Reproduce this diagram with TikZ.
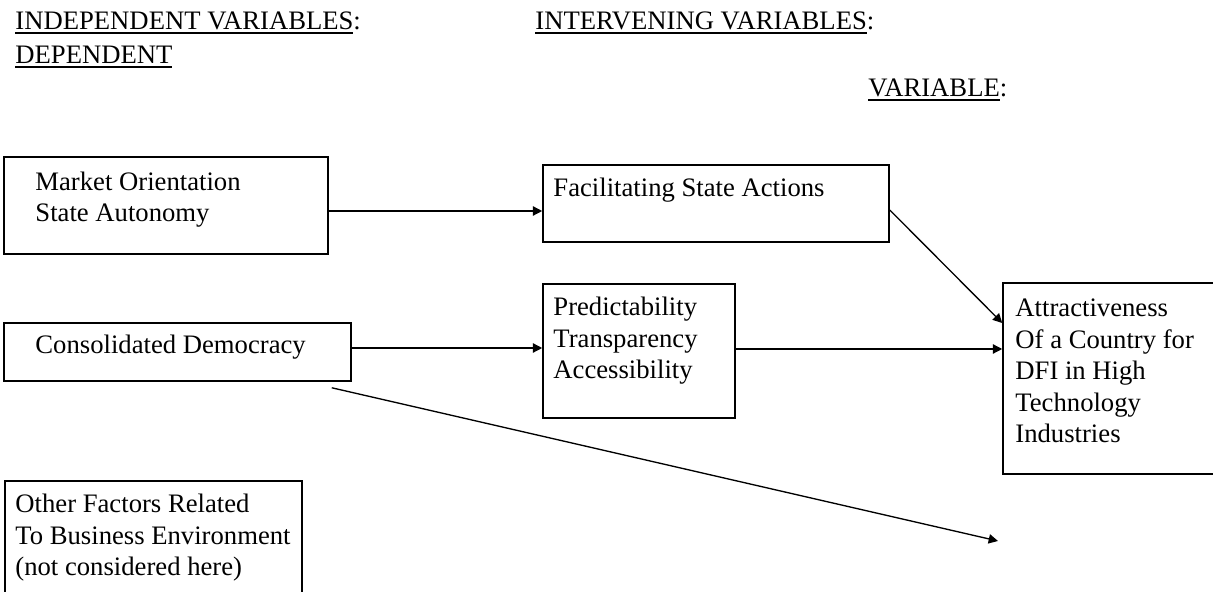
\documentclass[tikz,border=0pt]{standalone}
\usepackage{fontspec}
\setmainfont{Liberation Serif}
\usetikzlibrary{arrows.meta,fit,calc}
\tikzset{
  box/.style={draw, line width=0.7pt, inner sep=0pt},
  txt/.style={anchor=base west, inner sep=0pt, align=left, font=\fontsize{12}{14.2}\selectfont},
  arr/.style={draw, line width=0.6pt, -{Triangle[length=4.2pt,width=4.2pt]}},
}
\newcommand\hdrline[1]{\setbox0\hbox{#1}\rlap{\rule[-1.6pt]{\wd0}{0.7pt}}#1}
\begin{document}
\begin{tikzpicture}[x=0.45pt,y=-0.45pt]
\useasboundingbox (0,0) rectangle (1213,592);
% headers
\node[txt] (h1) at (15,30) {\hdrline{INDEPENDENT VARIABLES}:};
\node[txt] (h2) at (15,64) {\hdrline{DEPENDENT}};
\node[txt] (h3) at (535,30) {\hdrline{INTERVENING VARIABLES}:};
\node[txt] (h4) at (868,97) {\hdrline{VARIABLE}:};
% boxes
\node[box, fit={(4,157)(328,254)}] (market) {};
\node[box, fit={(543,165)(889,242)}] (fac) {};
\node[box, fit={(543,284)(735,418)}] (pred) {};
\node[box, fit={(4,323)(351,381)}] (cons) {};
\node[box, fit={(5,481)(302,600)}] (other) {};
\node[box, fit={(1003,283)(1225,474)}] (attr) {};
% texts (anchored at the baseline of the last line)
\node[txt] (tmarket) at (35,222) {Market Orientation\\State Autonomy};
\node[txt] (tfac) at (553,197) {Facilitating State Actions};
\node[txt] (tpred) at (553,379) {Predictability\\Transparency\\Accessibility};
\node[txt] (tcons) at (35,354) {Consolidated Democracy};
\node[txt] (tother) at (15,576) {Other Factors Related\\To Business Environment\\(not considered here)};
\node[txt] (tattr) at (1015,443) {Attractiveness\\Of a Country for\\DFI in High\\Technology\\Industries};
% connectors
\coordinate (free) at (998,541);
\draw[arr] (market.east |- 0,211) -- (fac.west |- 0,211);
\draw[arr] (cons.east |- 0,348) -- (pred.west |- 0,348);
\draw[arr] (pred.east |- 0,349) -- (attr.west |- 0,349);
\draw[arr] (fac.east |- 0,210) -- (attr.west |- 0,323);
\draw[arr] ($(cons.south east)+(-20,6)$) -- (free);
\end{tikzpicture}
\end{document}
